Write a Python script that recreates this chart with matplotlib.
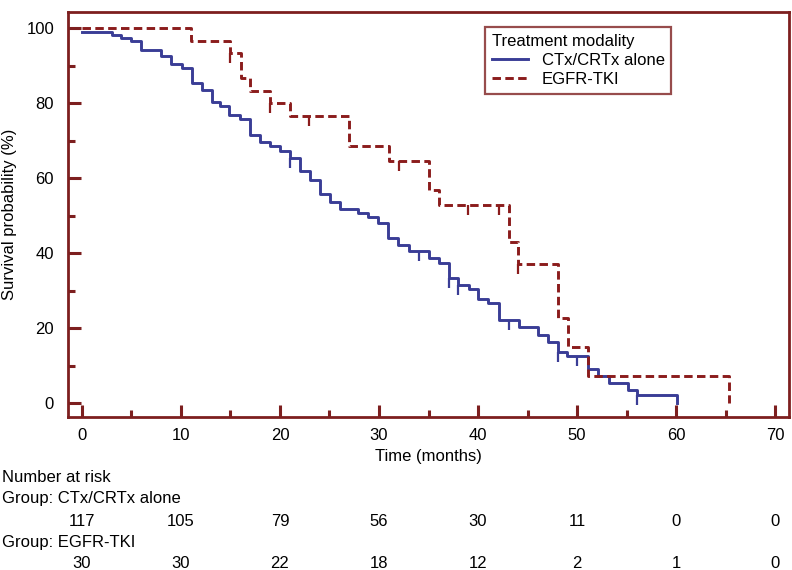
import numpy as np
import matplotlib.pyplot as plt
from matplotlib.ticker import MultipleLocator
from matplotlib.transforms import blended_transform_factory

plt.rcParams['font.family'] = ['Liberation Sans', 'DejaVu Sans']

# Kaplan-Meier steps: time (months), survival (%) after the step
ctx_t = [0, 3.0, 4.0, 5.0, 6.0, 8.0, 9.0, 10.1, 11.1, 12.1, 13.1, 13.9, 14.9, 16.0, 17.0,
         18.0, 19.0, 20.0, 21.0, 22.0, 23.0, 24.0, 25.1, 26.1, 27.9, 28.9, 29.9, 30.9,
         31.9, 33.0, 35.0, 36.1, 37.1, 38.0, 39.1, 40.0, 41.0, 42.1, 44.1, 46.1, 47.1,
         48.1, 49.0, 51.1, 52.1, 53.2, 55.1, 56.1, 60.1]
ctx_s = [99.1, 98.3, 97.4, 96.6, 94.3, 92.6, 90.4, 89.5, 85.3, 83.6, 80.3, 79.2, 76.8, 75.9, 71.6,
         69.6, 68.6, 67.3, 65.5, 62.0, 59.5, 55.9, 53.7, 51.9, 50.6, 49.7, 48.1, 44.1,
         42.1, 40.5, 38.7, 37.5, 33.4, 31.6, 30.5, 27.8, 26.7, 22.2, 20.3, 18.2, 16.4,
         13.7, 12.7, 9.1, 7.2, 5.4, 3.5, 2.1, 0]
ctx_cens_t = [21.0, 34.0, 37.1, 38.0, 43.1, 48.1, 50.0, 56.1]
ctx_cens_s = [65.5, 40.5, 33.4, 31.6, 22.2, 13.7, 12.7, 2.1]

tki_t = [0, 11.0, 15.0, 16.1, 17.0, 19.0, 21.0, 27.0, 31.0, 35.1, 36.1, 43.1, 44.0,
         48.1, 49.1, 51.1, 65.3]
tki_s = [100, 96.7, 93.3, 86.7, 83.3, 80.0, 76.7, 68.5, 64.6, 56.8, 52.8, 43.0, 37.1,
         22.6, 15.0, 7.3, 0]
tki_cens_t = [15.0, 19.0, 22.9, 32.0, 39.0, 42.1, 44.0]
tki_cens_s = [93.3, 80.0, 76.7, 64.6, 52.8, 52.8, 37.1]

risk_times = [0, 10, 20, 30, 40, 50, 60, 70]
risk_ctx = [117, 105, 79, 56, 30, 11, 0, 0]
risk_tki = [30, 30, 22, 18, 12, 2, 1, 0]

blue = '#3a3d96'
red = '#8b1c1c'
frame = '#7d1f1f'
fs = 12

fig = plt.figure(figsize=(7.92, 5.70), dpi=100)
ax = fig.add_axes([68 / 792, 1 - 417 / 570, (789 - 68) / 792, (417 - 12) / 570])

ax.step(ctx_t, ctx_s, where='post', color=blue, lw=2.1, label='CTx/CRTx alone')
ax.step(tki_t, tki_s, where='post', color=red, lw=2.1, dashes=(2.9, 1.5),
        label='EGFR-TKI')
ax.vlines(ctx_cens_t, np.array(ctx_cens_s) - 2.7, ctx_cens_s, color=blue, lw=1.6)
ax.vlines(tki_cens_t, np.array(tki_cens_s) - 2.7, tki_cens_s, color=red, lw=1.6)

ax.set_xlim(-1.4, 71.4)
ax.set_ylim(-3.7, 104.3)
ax.xaxis.set_major_locator(MultipleLocator(10))
ax.xaxis.set_minor_locator(MultipleLocator(5))
ax.yaxis.set_major_locator(MultipleLocator(20))
ax.yaxis.set_minor_locator(MultipleLocator(10))
ax.tick_params(which='both', direction='in', color=frame, width=2.2, labelsize=fs,
               top=False, right=False)
ax.tick_params(which='major', length=9)
ax.tick_params(which='minor', length=5)
ax.tick_params(axis='y', which='major', pad=10)
ax.tick_params(axis='x', which='major', pad=8)
for sp in ax.spines.values():
    sp.set_color(frame)
    sp.set_linewidth(2)

ax.set_xlabel('Time (months)', fontsize=fs, labelpad=4)
ax.set_ylabel('Survival probability (%)', fontsize=fs, labelpad=7)

leg = ax.legend(title='Treatment modality', loc='upper left',
                bbox_to_anchor=((485 - 68) / 721, 1 - (27 - 12) / 405),
                fontsize=fs, title_fontsize=fs, fancybox=False, frameon=True,
                handlelength=2.2, handletextpad=0.8, borderaxespad=0,
                borderpad=0.4, labelspacing=0.25)
leg._legend_box.align = 'left'
leg.get_frame().set_edgecolor(frame)
leg.get_frame().set_linewidth(1.6)

# number at risk table
tr = blended_transform_factory(ax.transData, fig.transFigure)
fig.text(0.002, 1 - 478 / 570, 'Number at risk', fontsize=fs, va='center')
fig.text(0.002, 1 - 498 / 570, 'Group: CTx/CRTx alone', fontsize=fs, va='center')
fig.text(0.002, 1 - 542 / 570, 'Group: EGFR-TKI', fontsize=fs, va='center')
for t, a, b in zip(risk_times, risk_ctx, risk_tki):
    ax.text(t, 1 - 521 / 570, str(a), transform=tr, ha='center', va='center',
            fontsize=fs, clip_on=False)
    ax.text(t, 1 - 563 / 570, str(b), transform=tr, ha='center', va='center',
            fontsize=fs, clip_on=False)

fig.savefig('out.png', dpi=100)
